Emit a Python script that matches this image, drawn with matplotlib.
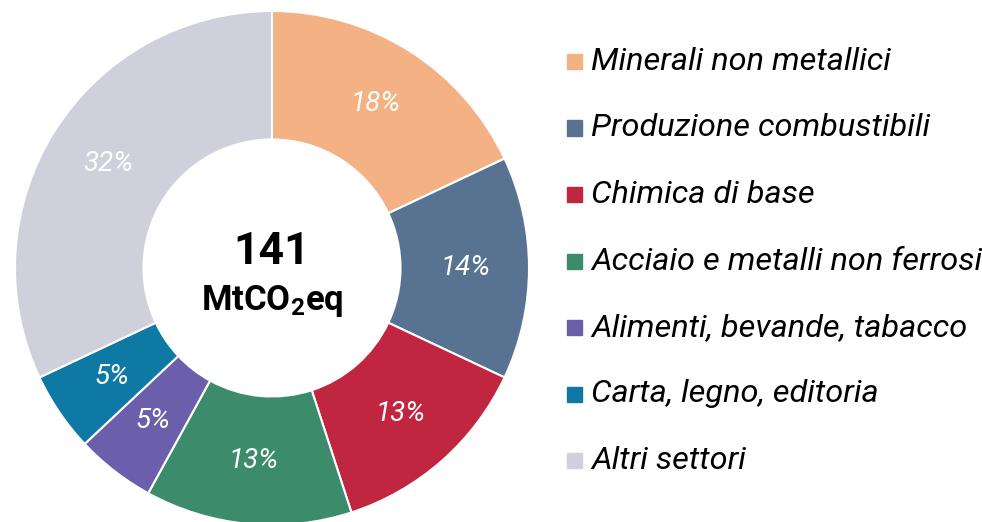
import numpy as np
import matplotlib.pyplot as plt
from matplotlib.patches import Rectangle

plt.rcParams['font.family'] = ['Roboto', 'DejaVu Sans']
plt.rcParams['mathtext.fontset'] = 'custom'
plt.rcParams['mathtext.rm'] = 'Roboto'
plt.rcParams['mathtext.bf'] = 'Roboto:bold'

labels = ['Minerali non metallici', 'Produzione combustibili', 'Chimica di base',
          'Acciaio e metalli non ferrosi', 'Alimenti, bevande, tabacco',
          'Carta, legno, editoria', 'Altri settori']
shares = [18, 14, 13, 13, 5, 5, 32]
colors = ['#F4B183', '#587391', '#C0263F', '#3C8B6B', '#6B5EAA', '#0F79A6', '#D0CFDC']
total = '141'

W, H = 982, 522
fig = plt.figure(figsize=(W / 100, H / 100), dpi=100)

# donut, centre ~ (272, 268) px, radius ~257 px
cx, cy, r = 272, H - 268, 257
ax = fig.add_axes([(cx - r) / W, (cy - r) / H, 2 * r / W, 2 * r / H])
wedges, _ = ax.pie(shares, colors=colors, startangle=90, counterclock=False, radius=1,
                   wedgeprops=dict(width=0.5, edgecolor='white', linewidth=1.5))
ax.set_xlim(-1, 1)
ax.set_ylim(-1, 1)
ax.set_aspect('equal')
ax.axis('off')

# percent labels in the middle of the ring
ang0 = 90.0
for s in shares:
    mid = np.deg2rad(ang0 - s * 3.6 / 2)
    ax.text(0.755 * np.cos(mid), 0.755 * np.sin(mid), f'{s}%', color='white',
            fontsize=20, style='italic', ha='center', va='center')
    ang0 -= s * 3.6

ax.text(0, 0.016, total, fontsize=32, fontweight='bold', ha='center', va='baseline')
ax.text(0, -0.163, r'$\mathbf{MtCO_2eq}$', fontsize=25, ha='center', va='baseline')

# legend drawn by hand
y0, dy = 61.5, 66.5
for i, (lab, col) in enumerate(zip(labels, colors)):
    y = H - (y0 + i * dy)
    fig.patches.append(Rectangle((567 / W, (y - 7.5) / H), 15 / W, 15 / H,
                                 transform=fig.transFigure, color=col))
    fig.text(591 / W, y / H, lab, fontsize=23.4, style='italic', va='center', ha='left')

fig.savefig('out.png', dpi=100)
